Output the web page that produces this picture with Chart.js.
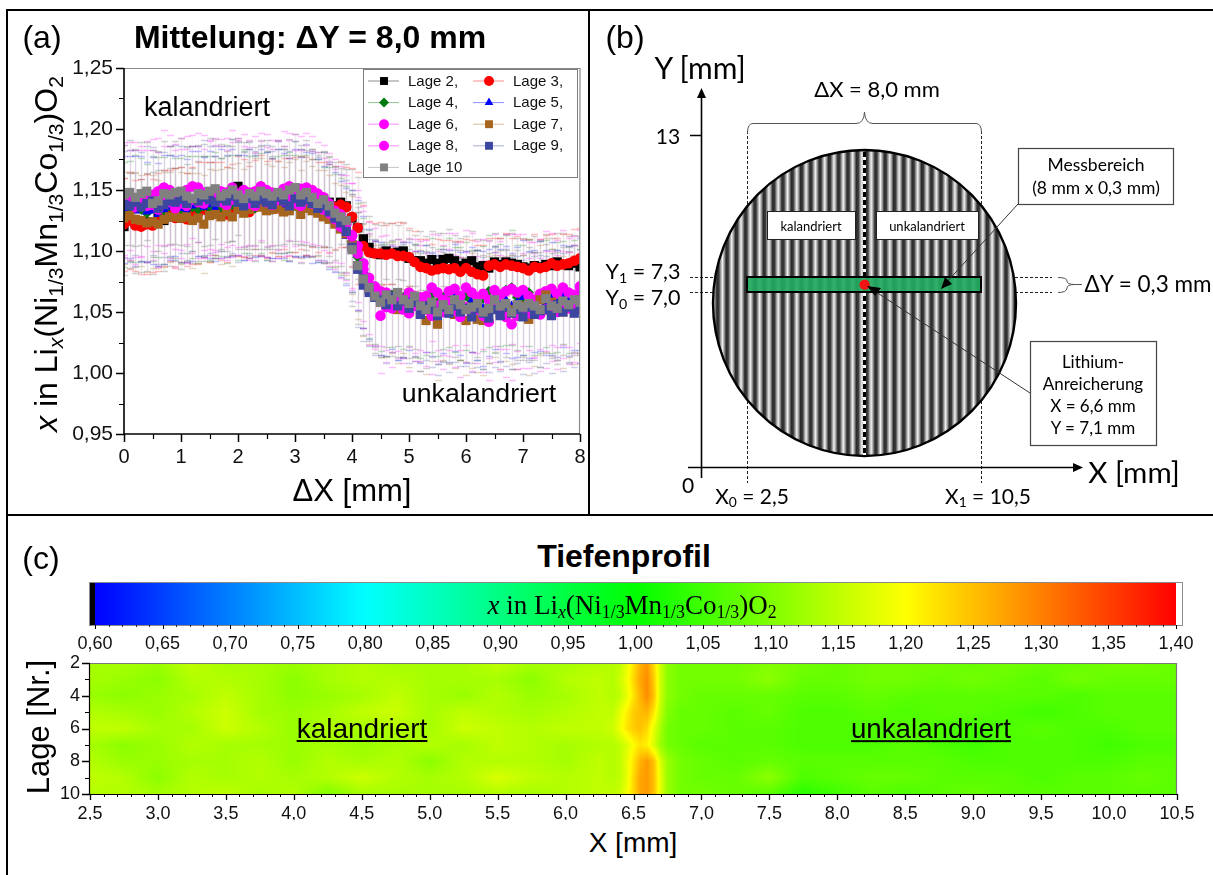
<!DOCTYPE html>
<html><head><meta charset="utf-8">
<script src="https://cdn.jsdelivr.net/npm/chart.js@4"></script>
<style>
html,body{margin:0;padding:0;background:#fff;width:1213px;height:875px;overflow:hidden;font-family:"Liberation Sans",Arial,sans-serif;color:#000}
canvas{position:absolute}
.t{position:absolute;white-space:nowrap;line-height:1}
.r{position:absolute;background:#000}
.t sub{font-size:.66em;line-height:0;vertical-align:-.28em}
</style></head><body>
<canvas id="ca" width="579" height="502" style="left:9px;top:12px"></canvas>
<canvas id="cb" width="620" height="502" style="left:592px;top:12px"></canvas>
<canvas id="cc" width="1213" height="80" style="left:0;top:575px"></canvas>
<canvas id="cd" width="1203" height="170" style="left:10px;top:650px"></canvas>
<script>
// panel (a) values
const dx=[0,0.1,0.2,0.3,0.4,0.5,0.6,0.7,0.8,0.9,1,1.1,1.2,1.3,1.4,1.5,1.6,1.7,1.8,1.9,2,2.1,2.2,2.3,2.4,2.5,2.6,2.7,2.8,2.9,3,3.1,3.2,3.3,3.4,3.5,3.6,3.7,3.8,3.9,4,4.1,4.2,4.3,4.4,4.5,4.6,4.7,4.8,4.9,5,5.1,5.2,5.3,5.4,5.5,5.6,5.7,5.8,5.9,6,6.1,6.2,6.3,6.4,6.5,6.6,6.7,6.8,6.9,7,7.1,7.2,7.3,7.4,7.5,7.6,7.7,7.8,7.9,8];
const lage2=[1.120,1.125,1.123,1.121,1.124,1.123,1.127,1.125,1.128,1.130,1.127,1.131,1.129,1.133,1.135,1.133,1.136,1.138,1.141,1.147,1.153,1.146,1.143,1.141,1.144,1.142,1.140,1.143,1.141,1.139,1.148,1.145,1.142,1.144,1.141,1.143,1.140,1.137,1.140,1.137,1.127,1.119,1.110,1.103,1.098,1.097,1.100,1.098,1.099,1.100,1.094,1.092,1.092,1.090,1.093,1.090,1.093,1.094,1.092,1.088,1.090,1.092,1.087,1.088,1.086,1.091,1.089,1.091,1.090,1.089,1.087,1.086,1.088,1.087,1.089,1.088,1.091,1.089,1.088,1.090,1.087];
const lage3=[1.122,1.125,1.121,1.120,1.122,1.121,1.124,1.127,1.129,1.127,1.130,1.126,1.129,1.131,1.134,1.132,1.135,1.133,1.130,1.134,1.137,1.135,1.132,1.136,1.138,1.134,1.137,1.135,1.139,1.136,1.138,1.140,1.137,1.139,1.136,1.138,1.135,1.136,1.138,1.136,1.128,1.119,1.104,1.099,1.098,1.098,1.097,1.098,1.096,1.096,1.095,1.091,1.087,1.086,1.084,1.085,1.086,1.085,1.086,1.083,1.086,1.083,1.081,1.080,1.088,1.089,1.087,1.089,1.088,1.087,1.086,1.084,1.087,1.086,1.087,1.090,1.088,1.089,1.090,1.092,1.094];
const lage4=[1.130,1.133,1.135,1.134,1.131,1.135,1.136,1.133,1.137,1.135,1.133,1.138,1.136,1.134,1.137,1.135,1.139,1.136,1.134,1.138,1.136,1.140,1.138,1.135,1.139,1.137,1.134,1.138,1.136,1.140,1.137,1.134,1.138,1.135,1.133,1.130,1.128,1.125,1.120,1.115,1.108,1.095,1.082,1.073,1.066,1.062,1.060,1.064,1.058,1.062,1.066,1.059,1.055,1.060,1.064,1.058,1.062,1.066,1.060,1.057,1.063,1.059,1.056,1.061,1.067,1.060,1.064,1.068,1.070,1.062,1.060,1.066,1.057,1.062,1.065,1.059,1.062,1.066,1.060,1.063,1.059];
const lage5=[1.134,1.136,1.133,1.135,1.132,1.133,1.130,1.134,1.136,1.137,1.135,1.133,1.137,1.139,1.136,1.138,1.135,1.139,1.137,1.140,1.138,1.136,1.139,1.137,1.140,1.138,1.135,1.139,1.137,1.134,1.140,1.136,1.138,1.135,1.133,1.130,1.128,1.124,1.118,1.112,1.108,1.097,1.083,1.073,1.065,1.061,1.058,1.062,1.056,1.060,1.063,1.057,1.054,1.061,1.056,1.052,1.059,1.055,1.062,1.057,1.054,1.060,1.056,1.053,1.058,1.062,1.056,1.060,1.055,1.058,1.062,1.056,1.059,1.063,1.058,1.061,1.057,1.063,1.059,1.062,1.065];
const lage6=[1.143,1.145,1.142,1.141,1.147,1.146,1.149,1.152,1.150,1.145,1.147,1.150,1.153,1.152,1.148,1.146,1.147,1.149,1.148,1.152,1.147,1.150,1.148,1.149,1.153,1.150,1.148,1.146,1.151,1.153,1.150,1.151,1.152,1.150,1.147,1.144,1.139,1.133,1.130,1.122,1.113,1.104,1.090,1.078,1.071,1.067,1.066,1.061,1.064,1.060,1.066,1.063,1.059,1.063,1.070,1.066,1.060,1.067,1.069,1.063,1.070,1.066,1.062,1.065,1.060,1.068,1.064,1.067,1.069,1.066,1.068,1.063,1.060,1.065,1.067,1.069,1.065,1.070,1.066,1.064,1.071];
const lage7=[1.127,1.129,1.126,1.125,1.123,1.124,1.122,1.126,1.128,1.128,1.127,1.128,1.125,1.127,1.122,1.129,1.130,1.128,1.132,1.128,1.134,1.131,1.134,1.139,1.136,1.133,1.134,1.135,1.132,1.133,1.137,1.130,1.135,1.133,1.131,1.128,1.126,1.122,1.118,1.114,1.105,1.088,1.076,1.068,1.063,1.058,1.056,1.062,1.052,1.058,1.050,1.056,1.049,1.043,1.052,1.040,1.054,1.052,1.048,1.053,1.043,1.051,1.044,1.043,1.052,1.055,1.049,1.053,1.052,1.047,1.055,1.044,1.049,1.060,1.064,1.058,1.053,1.050,1.056,1.052,1.060];
const lage8=[1.141,1.138,1.136,1.139,1.137,1.138,1.134,1.142,1.140,1.135,1.139,1.137,1.142,1.140,1.139,1.144,1.143,1.140,1.138,1.142,1.145,1.141,1.139,1.137,1.143,1.140,1.138,1.142,1.141,1.144,1.139,1.137,1.142,1.139,1.137,1.134,1.131,1.126,1.120,1.116,1.112,1.098,1.085,1.069,1.064,1.047,1.054,1.053,1.058,1.052,1.049,1.055,1.062,1.052,1.047,1.055,1.050,1.058,1.051,1.046,1.054,1.049,1.052,1.047,1.042,1.054,1.050,1.046,1.040,1.047,1.051,1.049,1.055,1.048,1.052,1.055,1.050,1.056,1.053,1.057,1.053];
const lage9=[1.138,1.137,1.140,1.136,1.139,1.141,1.135,1.138,1.141,1.140,1.142,1.139,1.143,1.141,1.144,1.142,1.140,1.143,1.141,1.145,1.140,1.137,1.143,1.139,1.142,1.140,1.138,1.144,1.141,1.137,1.143,1.140,1.142,1.139,1.135,1.137,1.132,1.127,1.123,1.116,1.103,1.085,1.072,1.066,1.062,1.060,1.056,1.063,1.055,1.059,1.053,1.058,1.048,1.055,1.052,1.047,1.054,1.049,1.055,1.050,1.053,1.046,1.053,1.049,1.045,1.052,1.047,1.054,1.049,1.052,1.046,1.054,1.048,1.051,1.052,1.047,1.056,1.050,1.054,1.049,1.055];
const lage10=[1.146,1.148,1.144,1.147,1.149,1.139,1.141,1.147,1.146,1.148,1.149,1.145,1.143,1.147,1.146,1.149,1.151,1.145,1.147,1.150,1.146,1.143,1.147,1.145,1.149,1.147,1.145,1.148,1.146,1.150,1.152,1.146,1.148,1.144,1.139,1.142,1.137,1.131,1.128,1.125,1.101,1.088,1.077,1.070,1.063,1.058,1.064,1.060,1.066,1.060,1.057,1.063,1.055,1.052,1.058,1.050,1.056,1.052,1.060,1.056,1.052,1.054,1.057,1.050,1.053,1.060,1.055,1.057,1.050,1.056,1.054,1.057,1.055,1.052,1.061,1.055,1.053,1.059,1.056,1.060,1.058];
// error bars, half width
const err2=[0.040,0.039,0.041,0.038,0.040,0.042,0.039,0.041,0.040,0.038,0.042,0.040,0.039,0.041,0.043,0.040,0.042,0.038,0.041,0.039,0.040,0.043,0.041,0.039,0.042,0.040,0.038,0.041,0.043,0.040,0.042,0.039,0.041,0.040,0.038,0.039,0.037,0.036,0.034,0.034,0.040,0.042,0.030,0.026,0.024,0.024,0.023,0.025,0.022,0.024,0.023,0.021,0.024,0.022,0.023,0.025,0.022,0.024,0.021,0.023,0.022,0.024,0.023,0.021,0.023,0.024,0.022,0.023,0.025,0.022,0.024,0.023,0.024,0.022,0.025,0.023,0.024,0.026,0.024,0.023,0.025];
const err3=[0.038,0.040,0.037,0.039,0.041,0.038,0.040,0.039,0.037,0.041,0.039,0.038,0.040,0.042,0.039,0.041,0.038,0.040,0.039,0.037,0.041,0.040,0.038,0.039,0.041,0.040,0.038,0.039,0.037,0.040,0.039,0.038,0.040,0.036,0.037,0.035,0.036,0.034,0.035,0.033,0.040,0.046,0.034,0.026,0.025,0.026,0.024,0.025,0.028,0.027,0.024,0.025,0.023,0.024,0.022,0.025,0.023,0.024,0.022,0.025,0.024,0.026,0.024,0.025,0.023,0.022,0.024,0.026,0.023,0.025,0.024,0.026,0.027,0.024,0.026,0.024,0.023,0.025,0.024,0.026,0.025];
const err4=[0.043,0.041,0.044,0.042,0.040,0.043,0.041,0.044,0.042,0.041,0.043,0.040,0.042,0.044,0.041,0.043,0.042,0.040,0.044,0.041,0.043,0.042,0.040,0.043,0.041,0.044,0.042,0.040,0.043,0.041,0.042,0.044,0.041,0.040,0.042,0.039,0.041,0.038,0.040,0.038,0.042,0.044,0.045,0.044,0.042,0.044,0.046,0.043,0.045,0.042,0.044,0.046,0.043,0.045,0.047,0.044,0.042,0.045,0.043,0.046,0.044,0.042,0.045,0.043,0.046,0.044,0.042,0.045,0.047,0.043,0.045,0.044,0.042,0.046,0.044,0.043,0.045,0.042,0.044,0.046,0.043];
const err5=[0.044,0.042,0.045,0.043,0.041,0.044,0.042,0.045,0.043,0.041,0.044,0.042,0.045,0.043,0.041,0.044,0.043,0.045,0.042,0.044,0.041,0.043,0.045,0.042,0.044,0.043,0.041,0.045,0.043,0.042,0.044,0.041,0.043,0.045,0.042,0.040,0.043,0.041,0.039,0.040,0.042,0.045,0.046,0.045,0.043,0.046,0.044,0.042,0.045,0.047,0.044,0.043,0.046,0.044,0.042,0.045,0.043,0.046,0.044,0.042,0.046,0.043,0.045,0.047,0.044,0.042,0.046,0.044,0.043,0.045,0.047,0.044,0.042,0.045,0.043,0.046,0.044,0.042,0.045,0.043,0.046];
const err6=[0.046,0.044,0.047,0.045,0.043,0.046,0.044,0.047,0.045,0.043,0.046,0.044,0.042,0.045,0.047,0.044,0.046,0.043,0.045,0.047,0.044,0.046,0.043,0.045,0.044,0.046,0.043,0.045,0.047,0.044,0.046,0.043,0.045,0.044,0.042,0.043,0.041,0.042,0.040,0.040,0.043,0.046,0.047,0.046,0.048,0.045,0.047,0.044,0.046,0.048,0.045,0.047,0.049,0.046,0.044,0.047,0.045,0.048,0.046,0.044,0.047,0.049,0.046,0.045,0.048,0.046,0.044,0.047,0.045,0.048,0.046,0.044,0.047,0.045,0.049,0.046,0.044,0.047,0.045,0.048,0.046];
const err7=[0.038,0.036,0.039,0.037,0.040,0.038,0.036,0.039,0.037,0.040,0.038,0.036,0.039,0.037,0.040,0.038,0.036,0.039,0.037,0.040,0.038,0.036,0.039,0.037,0.040,0.038,0.036,0.039,0.037,0.040,0.038,0.036,0.039,0.037,0.035,0.038,0.036,0.034,0.036,0.034,0.040,0.044,0.046,0.044,0.042,0.045,0.043,0.046,0.044,0.042,0.045,0.043,0.047,0.044,0.042,0.046,0.043,0.045,0.044,0.042,0.045,0.047,0.043,0.045,0.044,0.042,0.046,0.043,0.045,0.044,0.042,0.046,0.043,0.045,0.047,0.044,0.042,0.046,0.043,0.045,0.044];
const err8=[0.046,0.045,0.047,0.044,0.046,0.045,0.047,0.044,0.046,0.048,0.045,0.047,0.044,0.046,0.045,0.047,0.044,0.046,0.045,0.047,0.048,0.045,0.046,0.044,0.047,0.045,0.046,0.048,0.045,0.047,0.044,0.046,0.045,0.043,0.044,0.042,0.043,0.041,0.042,0.040,0.044,0.046,0.048,0.046,0.044,0.047,0.045,0.048,0.046,0.044,0.047,0.045,0.043,0.046,0.048,0.045,0.047,0.044,0.046,0.049,0.045,0.047,0.044,0.046,0.048,0.045,0.047,0.049,0.046,0.044,0.047,0.045,0.043,0.046,0.048,0.045,0.047,0.044,0.046,0.048,0.045];
const err9=[0.044,0.046,0.043,0.045,0.047,0.044,0.046,0.043,0.045,0.047,0.044,0.046,0.043,0.045,0.047,0.044,0.046,0.043,0.045,0.047,0.049,0.044,0.046,0.043,0.045,0.047,0.044,0.046,0.043,0.045,0.047,0.044,0.046,0.043,0.042,0.044,0.041,0.043,0.040,0.042,0.044,0.047,0.046,0.044,0.047,0.045,0.048,0.046,0.044,0.047,0.045,0.048,0.046,0.044,0.047,0.049,0.045,0.048,0.046,0.044,0.047,0.045,0.048,0.046,0.044,0.047,0.045,0.048,0.046,0.044,0.047,0.045,0.048,0.046,0.044,0.047,0.045,0.048,0.046,0.044,0.047];
const err10=[0.041,0.043,0.040,0.042,0.040,0.044,0.041,0.043,0.040,0.042,0.044,0.041,0.043,0.040,0.042,0.044,0.041,0.043,0.040,0.042,0.044,0.041,0.043,0.040,0.042,0.044,0.041,0.043,0.040,0.042,0.044,0.041,0.043,0.040,0.042,0.039,0.041,0.038,0.040,0.042,0.046,0.048,0.046,0.044,0.047,0.045,0.043,0.046,0.044,0.047,0.045,0.043,0.046,0.048,0.045,0.043,0.046,0.044,0.047,0.045,0.043,0.046,0.044,0.047,0.045,0.043,0.046,0.044,0.047,0.045,0.043,0.046,0.044,0.047,0.045,0.043,0.046,0.044,0.047,0.045,0.043];
const seriesNames=['Lage 2,','Lage 3,','Lage 4,','Lage 5,','Lage 6,','Lage 7,','Lage 8,','Lage 9,','Lage 10'];
const seriesValues=[lage2,lage3,lage4,lage5,lage6,lage7,lage8,lage9,lage10];
const seriesErrors=[err2,err3,err4,err5,err6,err7,err8,err9,err10];
const seriesColors=['#000000','#ff0000','#007a10','#0000ff','#ff00ff','#a5651e','#ff00ff','#3c46a0','#808080'];
const seriesMarks=['rect','circle','rectRot','triangle','circle','rect','circle','rect','rect'];
const xTicksA=[0,1,2,3,4,5,6,7,8];
const yTicksA=[0.95,1,1.05,1.1,1.15,1.2,1.25];
// colour scale
const barTicks=[0.6,0.65,0.7,0.75,0.8,0.85,0.9,0.95,1,1.05,1.1,1.15,1.2,1.25,1.3,1.35,1.4];
const barStops=[0.6,0.8,1.0,1.2,1.4];
const barColors=[[0,0,255],[0,255,255],[0,255,0],[255,255,0],[255,0,0]];
// depth profile
const heatX=[2.5,2.75,3,3.25,3.5,3.75,4,4.25,4.5,4.75,5,5.25,5.5,5.75,6,6.25,6.35,6.4,6.45,6.5,6.55,6.6,6.65,6.7,6.75,6.85,7,7.25,7.5,7.75,8,8.25,8.5,8.75,9,9.25,9.5,9.75,10,10.25,10.5];
const heatLage=[2,3,4,5,6,7,8,9,10];
const heat2=[1.13,1.13,1.12,1.15,1.13,1.13,1.12,1.13,1.14,1.13,1.13,1.13,1.15,1.13,1.13,1.14,1.14,1.15,1.18,1.22,1.26,1.28,1.23,1.16,1.11,1.09,1.09,1.09,1.10,1.09,1.08,1.09,1.09,1.09,1.08,1.09,1.08,1.08,1.09,1.09,1.08];
const heat3=[1.13,1.12,1.11,1.14,1.14,1.13,1.11,1.13,1.14,1.14,1.13,1.13,1.13,1.11,1.14,1.15,1.14,1.16,1.19,1.23,1.27,1.29,1.24,1.16,1.11,1.09,1.09,1.09,1.11,1.08,1.08,1.09,1.09,1.08,1.09,1.08,1.07,1.09,1.08,1.08,1.08];
const heat4=[1.12,1.11,1.12,1.13,1.15,1.13,1.11,1.12,1.13,1.15,1.13,1.12,1.14,1.12,1.13,1.15,1.14,1.15,1.18,1.22,1.26,1.29,1.25,1.16,1.11,1.09,1.08,1.08,1.08,1.07,1.07,1.08,1.07,1.07,1.07,1.07,1.07,1.06,1.07,1.07,1.07];
const heat5=[1.14,1.13,1.12,1.14,1.16,1.13,1.12,1.13,1.15,1.16,1.13,1.15,1.14,1.13,1.14,1.15,1.15,1.18,1.21,1.24,1.25,1.26,1.22,1.15,1.10,1.08,1.08,1.07,1.08,1.06,1.06,1.07,1.06,1.07,1.07,1.06,1.05,1.06,1.07,1.07,1.07];
const heat6=[1.15,1.15,1.13,1.13,1.16,1.14,1.12,1.14,1.13,1.14,1.13,1.16,1.15,1.14,1.15,1.15,1.16,1.19,1.22,1.24,1.25,1.23,1.18,1.13,1.09,1.08,1.08,1.07,1.07,1.06,1.06,1.06,1.07,1.06,1.05,1.06,1.07,1.06,1.06,1.07,1.07];
const heat7=[1.13,1.11,1.12,1.14,1.13,1.13,1.12,1.13,1.12,1.13,1.14,1.13,1.15,1.14,1.13,1.14,1.14,1.15,1.17,1.20,1.22,1.21,1.17,1.12,1.09,1.08,1.07,1.07,1.07,1.06,1.06,1.06,1.07,1.06,1.05,1.06,1.06,1.06,1.05,1.06,1.06];
const heat8=[1.14,1.12,1.12,1.13,1.13,1.14,1.12,1.14,1.13,1.14,1.11,1.14,1.14,1.14,1.13,1.15,1.14,1.15,1.18,1.22,1.26,1.28,1.25,1.17,1.12,1.09,1.08,1.07,1.08,1.07,1.07,1.07,1.07,1.07,1.06,1.06,1.06,1.06,1.06,1.07,1.07];
const heat9=[1.15,1.14,1.11,1.14,1.13,1.14,1.13,1.14,1.16,1.14,1.13,1.14,1.17,1.15,1.14,1.15,1.14,1.15,1.18,1.23,1.27,1.28,1.25,1.18,1.12,1.09,1.08,1.08,1.11,1.06,1.07,1.08,1.08,1.07,1.07,1.07,1.06,1.07,1.07,1.08,1.07];
const heat10=[1.14,1.14,1.13,1.14,1.15,1.13,1.14,1.10,1.13,1.13,1.13,1.13,1.14,1.13,1.14,1.15,1.15,1.16,1.19,1.23,1.27,1.28,1.25,1.18,1.12,1.09,1.09,1.08,1.07,1.03,1.05,1.07,1.06,1.07,1.08,1.07,1.07,1.07,1.07,1.07,1.07];
const heatRows=[heat2,heat3,heat4,heat5,heat6,heat7,heat8,heat9,heat10];
const xTicksC=[2.5,3,3.5,4,4.5,5,5.5,6,6.5,7,7.5,8,8.5,9,9.5,10,10.5];
const yTicksC=[2,4,6,8,10];
</script>
<script>
const SANS='"Liberation Sans",Arial,sans-serif';
Chart.defaults.animation=false;
Chart.defaults.font.family=SANS;
Chart.defaults.color='#000';
function comma(v,d){return v.toFixed(d).replace('.',',');}
function rgba(hex,a){
  const n=parseInt(hex.slice(1),16);
  const r=Math.floor(n/65536),g=Math.floor(n/256)%256,b=n%256;
  return 'rgba('+r+','+g+','+b+','+a+')';
}
function colormap(v){
  if(v<=barStops[0])return barColors[0];
  for(let i=1;i<barStops.length;i++){
    if(v<=barStops[i]){
      const f=(v-barStops[i-1])/(barStops[i]-barStops[i-1]);
      return barColors[i].map((c,k)=>barColors[i-1][k]+(c-barColors[i-1][k])*f);
    }
  }
  return barColors[barColors.length-1];
}
function seq(a,b,s){const o=[];const n=Math.round((b-a)/s);for(let i=0;i<=n;i++){o.push(a+i*s);}return o;}
function drawTicks(ctx,scale,vals,len,horizontal,w){
  ctx.save();ctx.strokeStyle='#000';ctx.lineWidth=w;ctx.beginPath();
  vals.forEach(v=>{
    const p=Math.round(scale.getPixelForValue(v))+0.5;
    if(horizontal){ctx.moveTo(p,scale.top);ctx.lineTo(p,scale.top+len);}
    else{ctx.moveTo(scale.right,p);ctx.lineTo(scale.right-len,p);}
  });
  ctx.stroke();ctx.restore();
}
function fixTicks(fmt,pad,size){return {autoSkip:false,maxRotation:0,minRotation:0,padding:pad,font:{size:size},callback:fmt,color:'#111'};}
function setTicks(list){return function(s){s.ticks=list.map(v=>({value:v}));};}
function widthFit(w){return function(s){s.width=w;s.paddingTop=0;s.paddingBottom=0;};}
function heightFit(h){return function(s){s.height=h;s.paddingLeft=0;s.paddingRight=0;};}
const noGrid={display:false,drawTicks:false};
const noBorder={display:false};
const noPlugins={legend:{display:false},tooltip:{enabled:false}};
</script>
<script>
const dsA=seriesValues.map((vals,i)=>({
  label:seriesNames[i],
  data:vals.map((v,k)=>({x:dx[k],y:v})),
  errs:seriesErrors[i],
  showLine:true,borderColor:rgba(seriesColors[i],0.2),borderWidth:1,
  pointStyle:seriesMarks[i],backgroundColor:seriesColors[i],pointBackgroundColor:seriesColors[i],
  pointBorderWidth:0,pointRadius:seriesMarks[i]==='rect'?6.5:5.3,
  order:seriesValues.length-i
}));
const pluginA={id:'a',
  beforeDatasetsDraw(c){
    const ctx=c.ctx,A=c.chartArea,xs=c.scales.x,ys=c.scales.y;
    ctx.save();ctx.beginPath();ctx.rect(A.left,A.top,A.width,A.height);ctx.clip();
    c.data.datasets.forEach((d,i)=>{
      const col=seriesColors[i];
      const grey=(i===0||i===8);
      d.data.forEach((p,k)=>{
        const e=d.errs[k];
        if(e===undefined)return;
        const X=Math.round(xs.getPixelForValue(p.x))+0.5;
        const Y1=Math.round(ys.getPixelForValue(p.y+e))+0.5;
        const Y0=Math.round(ys.getPixelForValue(p.y-e))+0.5;
        ctx.strokeStyle=grey?'rgba(150,150,150,0.14)':rgba(col,0.03);ctx.lineWidth=grey?2:1;
        ctx.beginPath();ctx.moveTo(X,Y1);ctx.lineTo(X,Y0);ctx.stroke();
        ctx.strokeStyle=grey?'rgba(110,110,110,0.3)':rgba(col,0.25);ctx.lineWidth=1.4;
        ctx.beginPath();ctx.moveTo(X-3.5,Y1);ctx.lineTo(X+3.5,Y1);ctx.moveTo(X-3.5,Y0);ctx.lineTo(X+3.5,Y0);ctx.stroke();
      });
    });
    ctx.restore();
  },
  afterDatasetsDraw(c){
    const ctx=c.ctx,A=c.chartArea,xs=c.scales.x,ys=c.scales.y;
    const L=354,T=57,W=214,H=108,rowH=21.6;
    ctx.save();ctx.fillStyle='#fff';ctx.fillRect(L,T,W,H);ctx.strokeStyle='#7d7d7d';ctx.lineWidth=1;ctx.strokeRect(L+0.5,T+0.5,W,H);
    ctx.font='15px '+SANS;ctx.textBaseline='middle';ctx.textAlign='left';
    c.data.datasets.forEach((d,i)=>{
      const col=i%2,row=Math.floor(i/2);
      const x0=L+5+col*105,y=T+12+row*rowH;
      ctx.strokeStyle=rgba(seriesColors[i],0.45);ctx.lineWidth=1;ctx.beginPath();ctx.moveTo(x0,y);ctx.lineTo(x0+31,y);ctx.stroke();
      ctx.fillStyle=seriesColors[i];
      Chart.helpers.drawPoint(ctx,{pointStyle:seriesMarks[i],radius:seriesMarks[i]==='rect'?5.6:5,rotation:0,borderWidth:0},x0+16,y);
      ctx.fillStyle='#111';ctx.fillText(d.label,x0+40,y+0.5);
    });
    ctx.restore();
    ctx.save();ctx.strokeStyle='#8a8a8a';ctx.lineWidth=1.2;ctx.beginPath();
    ctx.moveTo(A.left,A.top+0.5);ctx.lineTo(A.right,A.top+0.5);ctx.lineTo(A.right-0.5,A.bottom);ctx.stroke();
    ctx.strokeStyle='#000';ctx.lineWidth=1.6;ctx.beginPath();
    ctx.moveTo(A.left,A.top);ctx.lineTo(A.left,A.bottom);ctx.lineTo(A.right,A.bottom);ctx.stroke();ctx.restore();
    drawTicks(ctx,xs,xTicksA,8,true,1.5);drawTicks(ctx,xs,seq(0.5,7.5,1),5,true,1.2);
    drawTicks(ctx,ys,yTicksA,8,false,1.5);drawTicks(ctx,ys,seq(0.975,1.225,0.05),5,false,1.2);
  }
};
new Chart(document.getElementById('ca'),{
  type:'scatter',
  data:{datasets:dsA},
  plugins:[pluginA],
  options:{
    responsive:false,events:[],
    layout:{padding:{top:56,right:8,left:0,bottom:0}},
    plugins:noPlugins,
    scales:{
      x:{type:'linear',min:0,max:8,grid:noGrid,border:noBorder,afterBuildTicks:setTicks(xTicksA),ticks:fixTicks(v=>String(v),11,20),afterFit:heightFit(80)},
      y:{type:'linear',min:0.95,max:1.25,grid:noGrid,border:noBorder,afterBuildTicks:setTicks(yTicksA),ticks:fixTicks(v=>comma(v,2),11,21),afterFit:widthFit(115)}
    }
  }
});
</script>
<script>
const liX=[6.5],liY=[7.1];
const pluginB={id:'b',
  beforeDatasetsDraw(c){
    const ctx=c.ctx;ctx.save();ctx.translate(-592,-12);
    ctx.strokeStyle='#222';ctx.lineWidth=1;ctx.setLineDash([3,2]);ctx.beginPath();
    ctx.moveTo(747.5,131);ctx.lineTo(747.5,483);ctx.moveTo(981.5,131);ctx.lineTo(981.5,483);
    ctx.moveTo(690,277.5);ctx.lineTo(1052,277.5);ctx.moveTo(690,292.5);ctx.lineTo(1052,292.5);ctx.stroke();ctx.setLineDash([]);
    ctx.save();ctx.beginPath();ctx.ellipse(864.5,303,151.5,153,0,0,Math.PI*2);ctx.clip();
    const P=9.3;
    for(let i=-18;i<=18;i++){
      const x0=864.5+(i-0.5)*P;
      const g=ctx.createLinearGradient(x0,0,x0+P,0);
      g.addColorStop(0,'#8a8a8a');g.addColorStop(0.22,'#f2f2f2');g.addColorStop(0.42,'#999999');g.addColorStop(0.62,'#2a2a2a');g.addColorStop(0.85,'#3a3a3a');g.addColorStop(1,'#8a8a8a');
      ctx.fillStyle=g;ctx.fillRect(x0,140,P+0.5,330);
    }
    ctx.restore();
    ctx.strokeStyle='#000';ctx.lineWidth=2.4;ctx.beginPath();ctx.ellipse(864.5,303,151.5,153,0,0,Math.PI*2);ctx.stroke();
    ctx.strokeStyle='#fff';ctx.lineWidth=3;ctx.beginPath();ctx.moveTo(864.5,152);ctx.lineTo(864.5,455);ctx.stroke();
    ctx.strokeStyle='#000';ctx.setLineDash([5,3]);ctx.beginPath();ctx.moveTo(864.5,152);ctx.lineTo(864.5,455);ctx.stroke();ctx.setLineDash([]);
    ctx.fillStyle='rgba(34,170,96,0.92)';ctx.fillRect(747,277,234,15);ctx.strokeStyle='#000';ctx.lineWidth=2;ctx.strokeRect(747,277,234,15);
    ctx.fillStyle='#fff';ctx.strokeStyle='#222';ctx.lineWidth=1;
    ctx.fillRect(767,211,88,28);ctx.strokeRect(767.5,211.5,88,28);ctx.fillRect(876,211,102,28);ctx.strokeRect(876.5,211.5,102,28);
    ctx.strokeStyle='#000';ctx.fillStyle='#000';ctx.lineWidth=1.6;ctx.beginPath();
    ctx.moveTo(701.5,478);ctx.lineTo(701.5,96);ctx.moveTo(688,467.5);ctx.lineTo(1074,467.5);ctx.moveTo(690,135.5);ctx.lineTo(701,135.5);ctx.stroke();
    ctx.beginPath();ctx.moveTo(701.5,88);ctx.lineTo(697,98);ctx.lineTo(706,98);ctx.closePath();ctx.fill();
    ctx.beginPath();ctx.moveTo(1083,467.5);ctx.lineTo(1073,463);ctx.lineTo(1073,472);ctx.closePath();ctx.fill();
    ctx.strokeStyle='#555';ctx.lineWidth=1;ctx.beginPath();
    ctx.moveTo(747.5,133);ctx.quadraticCurveTo(747.5,123.5,753,123.5);ctx.lineTo(856,123.5);ctx.quadraticCurveTo(864,123.5,864.5,112);ctx.quadraticCurveTo(865,123.5,873,123.5);ctx.lineTo(976,123.5);ctx.quadraticCurveTo(981.5,123.5,981.5,133);
    ctx.moveTo(1058,277.5);ctx.quadraticCurveTo(1067,277.5,1067,281);ctx.quadraticCurveTo(1067,284.5,1075,284.5);ctx.lineTo(1082,284.5);ctx.moveTo(1075,284.5);ctx.quadraticCurveTo(1067,284.5,1067,288);ctx.quadraticCurveTo(1067,292.5,1058,292.5);ctx.stroke();
    ctx.fillStyle='#fff';ctx.strokeStyle='#444';ctx.lineWidth=1.2;
    ctx.fillRect(1018,148,155,56);ctx.strokeRect(1018.5,148.5,155,56);ctx.fillRect(1030,341,126,104);ctx.strokeRect(1030.5,341.5,126,104);
    ctx.restore();
  },
  afterDatasetsDraw(c){
    const ctx=c.ctx;ctx.save();ctx.translate(-592,-12);
    ctx.strokeStyle='#333';ctx.lineWidth=1;ctx.beginPath();ctx.moveTo(1018,204);ctx.lineTo(945,284);ctx.moveTo(1030,393);ctx.lineTo(876,292);ctx.stroke();
    ctx.fillStyle='#000';
    ctx.beginPath();ctx.moveTo(941,289);ctx.lineTo(945,277);ctx.lineTo(952,284);ctx.closePath();ctx.fill();
    ctx.beginPath();ctx.moveTo(867,286);ctx.lineTo(881,288);ctx.lineTo(875,296);ctx.closePath();ctx.fill();
    ctx.restore();
  }
};
new Chart(document.getElementById('cb'),{
  type:'scatter',
  data:{datasets:[{label:'Lithium-Anreicherung',data:liX.map((v,i)=>({x:v,y:liY[i]})),pointStyle:'circle',pointRadius:5.2,backgroundColor:'#f01414',pointBackgroundColor:'#f01414',pointBorderWidth:0}]},
  plugins:[pluginB],
  options:{
    responsive:false,events:[],layout:{padding:0},plugins:noPlugins,
    scales:{
      x:{type:'linear',display:false,min:-2.799,max:18.397},
      y:{type:'linear',display:false,min:-1.835,max:17.763}
    }
  }
});
</script>
<script>
const pluginC={id:'c',
  beforeDatasetsDraw(c){
    const ctx=c.ctx,A=c.chartArea,xs=c.scales.x;
    const first=barStops[0],last=barStops[barStops.length-1];
    const p0=xs.getPixelForValue(first),p1=xs.getPixelForValue(last);
    const g=ctx.createLinearGradient(p0,0,p1,0);
    barStops.forEach((s,i)=>{
      g.addColorStop((s-first)/(last-first),'rgb('+barColors[i].join(',')+')');
    });
    ctx.save();ctx.fillStyle='#000';ctx.fillRect(A.left,A.top,p0-A.left,A.height);
    ctx.fillStyle=g;ctx.fillRect(p0,A.top,p1-p0,A.height);
    ctx.fillStyle='#fff';ctx.fillRect(p1,A.top,A.right-p1,A.height);
    ctx.strokeStyle='#8a8a8a';ctx.lineWidth=1;ctx.strokeRect(A.left-0.5,A.top-0.5,A.width+1,A.height+1);ctx.restore();
    drawTicks(ctx,xs,barTicks,4,true,1);drawTicks(ctx,xs,seq(0.6,1.4,0.01),2,true,0.8);
  }
};
new Chart(document.getElementById('cc'),{
  type:'scatter',
  data:{datasets:[{label:'x in Lix(Ni1/3Mn1/3Co1/3)O2',data:barStops.map(s=>({x:s,y:0.5})),pointRadius:0}]},
  plugins:[pluginC],
  options:{
    responsive:false,events:[],layout:{padding:{top:8,left:90,right:31,bottom:0}},plugins:noPlugins,
    scales:{
      x:{type:'linear',min:0.5963,max:1.4044,grid:noGrid,border:noBorder,afterBuildTicks:setTicks(barTicks),ticks:fixTicks(v=>comma(v,2),8,18),afterFit:heightFit(30)},
      y:{type:'linear',display:false,min:0,max:1}
    }
  }
});
</script>
<script>
const pluginD={id:'d',
  beforeDatasetsDraw(c){
    const ctx=c.ctx,A=c.chartArea,xs=c.scales.x,ys=c.scales.y;
    const l=Math.round(A.left),t=Math.round(A.top),w=Math.round(A.width),h=Math.round(A.height);
    const img=ctx.createImageData(w,h);
    let o=0;
    for(let py=0;py<h;py++){
      const yv=ys.getValueForPixel(t+py+0.5);
      let r=0;
      while(r<heatLage.length-2&&heatLage[r+1]<yv){r++;}
      const fy=Math.max(0,Math.min(1,(yv-heatLage[r])/(heatLage[r+1]-heatLage[r])));
      for(let px=0;px<w;px++){
        const xv=xs.getValueForPixel(l+px+0.5);
        let q=0;
        while(q<heatX.length-2&&heatX[q+1]<xv){q++;}
        const fx=Math.max(0,Math.min(1,(xv-heatX[q])/(heatX[q+1]-heatX[q])));
        const top=heatRows[r][q]*(1-fx)+heatRows[r][q+1]*fx;
        const bot=heatRows[r+1][q]*(1-fx)+heatRows[r+1][q+1]*fx;
        const col=colormap(top*(1-fy)+bot*fy);
        img.data[o++]=col[0];img.data[o++]=col[1];img.data[o++]=col[2];img.data[o++]=255;
      }
    }
    ctx.putImageData(img,l,t);
    ctx.save();ctx.strokeStyle='#7a7a7a';ctx.lineWidth=1.2;ctx.beginPath();ctx.moveTo(l-8,t+0.5);ctx.lineTo(l+w,t+0.5);ctx.moveTo(l+w-0.5,t);ctx.lineTo(l+w-0.5,t+h);ctx.stroke();
    ctx.strokeStyle='#000';ctx.lineWidth=1.2;ctx.beginPath();ctx.moveTo(l-0.5,t);ctx.lineTo(l-0.5,t+h+0.5);ctx.lineTo(l+w,t+h+0.5);ctx.stroke();ctx.restore();
    drawTicks(ctx,xs,xTicksC,6,true,1.3);drawTicks(ctx,xs,seq(2.5,10.5,0.1),3,true,1);
    drawTicks(ctx,ys,yTicksC,8,false,1.3);drawTicks(ctx,ys,[3,5,7,9],5,false,1);
  }
};
const heatPoints=[];
heatLage.forEach((L,r)=>{heatX.forEach((X,q)=>{heatPoints.push({x:X,y:L,v:heatRows[r][q]});});});
new Chart(document.getElementById('cd'),{
  type:'scatter',
  data:{datasets:[{label:'Tiefenprofil',data:heatPoints,pointRadius:0}]},
  plugins:[pluginD],
  options:{
    responsive:false,events:[],layout:{padding:{top:13,right:36,left:0,bottom:0}},plugins:noPlugins,
    scales:{
      x:{type:'linear',min:2.5,max:10.5,grid:noGrid,border:noBorder,afterBuildTicks:setTicks(xTicksC),ticks:fixTicks(v=>comma(v,1),9,18),afterFit:heightFit(26)},
      y:{type:'linear',min:2,max:10,reverse:true,grid:noGrid,border:noBorder,afterBuildTicks:setTicks(yTicksC),ticks:fixTicks(v=>String(v),10,18),afterFit:widthFit(80)}
    }
  }
});
</script>
<script>
function bar(x,y,w,h){
  const d=document.createElement('div');d.className='r';
  d.style.left=x+'px';d.style.top=y+'px';d.style.width=w+'px';d.style.height=h+'px';
  document.body.appendChild(d);
}
bar(6,9,1207,2);bar(6,9,2,866);bar(588,9,2,507);bar(6,514,1207,2);
function txt(html,x,y,size,opt){
  opt=opt||{};
  const d=document.createElement('div');d.className='t';d.innerHTML=html;
  d.style.left=x+'px';d.style.top=y+'px';d.style.fontSize=size+'px';
  d.style.fontFamily=opt.font||SANS;
  d.style.fontWeight=opt.bold?'bold':'normal';
  d.style.transform='translate(-50%,-50%)'+(opt.rot?' rotate(-90deg)':'');
  document.body.appendChild(d);
}
const LATO='Lato,"Open Sans",sans-serif',SERIF='"Liberation Serif",serif';
const CHEM='<i>x</i> in Li<sub><i>x</i></sub>(Ni<sub>1/3</sub>Mn<sub>1/3</sub>Co<sub>1/3</sub>)O<sub>2</sub>';
txt('(a)',42,37,32);txt('(b)',625,37,32);txt('(c)',41,558,32);
txt('Mittelung: ΔY = 8,0 mm',310,37,32,{bold:true});
txt('Tiefenprofil',624,556,32,{bold:true});
txt(CHEM,46,254,32,{rot:true});
txt('ΔX [mm]',352,490,31);
txt('kalandriert',207,107,27);txt('unkalandriert',479,393,26.7);
txt('<u>kalandriert</u>',362,729,28);txt('<u>unkalandriert</u>',931,729,27.7);
txt('X [mm]',633,843,28);txt('Lage [Nr.]',38,727,31,{rot:true});
txt(CHEM,632,605,27,{font:SERIF});
txt('Y [mm]',700,67,30,{font:LATO});txt('X [mm]',1134,472,29.5,{font:LATO});
txt('ΔX = 8,0 mm',877,89,22,{font:LATO});txt('13',668,135,21,{font:LATO});
txt('ΔY = 0,3 mm',1148,284,22.5,{font:LATO});
txt('Y<sub>1</sub> = 7,3',643,272,21.5,{font:LATO});txt('Y<sub>0</sub> = 7,0',643,298,21.5,{font:LATO});
txt('0',688,484,21,{font:LATO});txt('X<sub>0</sub> = 2,5',752,495,21,{font:LATO});txt('X<sub>1</sub> = 10,5',988,495,21,{font:LATO});
txt('kalandriert',811,226,13,{font:LATO});txt('unkalandriert',927,226,13,{font:LATO});
txt('Messbereich',1096,165,17.5,{font:LATO});txt('(8 mm x 0,3 mm)',1096,188,17.5,{font:LATO});
txt('Lithium-',1093,361,17,{font:LATO});txt('Anreicherung',1093,383,17,{font:LATO});txt('X = 6,6 mm',1093,405,17,{font:LATO});txt('Y = 7,1 mm',1093,427,17,{font:LATO});
</script>
</body></html>
